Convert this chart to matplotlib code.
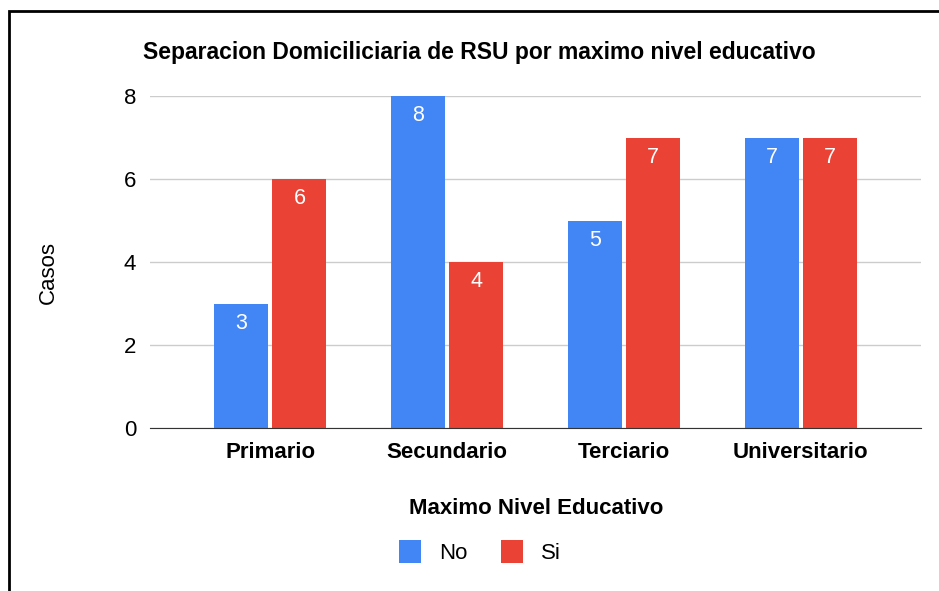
import numpy as np
import matplotlib.pyplot as plt
from matplotlib.patches import Rectangle

plt.rcParams['font.family'] = ['Liberation Sans', 'DejaVu Sans']

# datos
categorias = ['Primario', 'Secundario', 'Terciario', 'Universitario']
no_vals = [3, 8, 5, 7]
si_vals = [6, 4, 7, 7]

fig = plt.figure(figsize=(9.39, 5.91), dpi=100)
W, H = 939, 591
ax = fig.add_axes([150 / W, 1 - 428 / H, 771 / W, 332 / H])

x = np.arange(len(categorias))
w = 0.305
off = 0.165
b1 = ax.bar(x - off, no_vals, w, color='#4285F4', label='No', zorder=3)
b2 = ax.bar(x + off, si_vals, w, color='#EA4335', label='Si', zorder=3)

for bars in (b1, b2):
    for b in bars:
        ax.text(b.get_x() + b.get_width() / 2, b.get_height() - 0.47, str(int(b.get_height())),
                ha='center', va='center', color='white', fontsize=15.5, zorder=4)

ax.set_xlim(-0.68, 3.68)
ax.set_ylim(0, 8)
ax.set_yticks([0, 2, 4, 6, 8])
ax.grid(axis='y', color='#cccccc', linewidth=1, zorder=0)
for s in ['top', 'right', 'left']:
    ax.spines[s].set_visible(False)
ax.spines['bottom'].set_color('#333333')
ax.spines['bottom'].set_zorder(5)
ax.tick_params(axis='both', length=0)
ax.tick_params(axis='y', labelsize=16, pad=10)
ax.set_xticks(x)
ax.set_xticklabels(categorias, fontsize=16, fontweight='bold')
ax.tick_params(axis='x', pad=10)

fig.text(48 / W, 1 - 272 / H, 'Casos', rotation=90, ha='center', va='center', fontsize=16)
fig.text(479 / W, 1 - 53 / H, 'Separacion Domiciliciaria de RSU por maximo nivel educativo',
         ha='center', va='center', fontsize=16.5, fontweight='bold')
fig.text(536 / W, 1 - 509 / H, 'Maximo Nivel Educativo', ha='center', va='center',
         fontsize=16, fontweight='bold')

fig.legend(handles=[b1, b2], loc='center', bbox_to_anchor=(480 / W, 1 - 552 / H), ncol=2,
           frameon=False, fontsize=16, handlelength=1.0, handleheight=1.2, columnspacing=1.5,
           handletextpad=0.8)

# marco
fig.patches.append(Rectangle((9 / W, -0.1), 1.2, 1 - 11 / H + 0.1, transform=fig.transFigure,
                             fill=False, edgecolor='black', linewidth=2))

fig.savefig('out.png', dpi=100)
